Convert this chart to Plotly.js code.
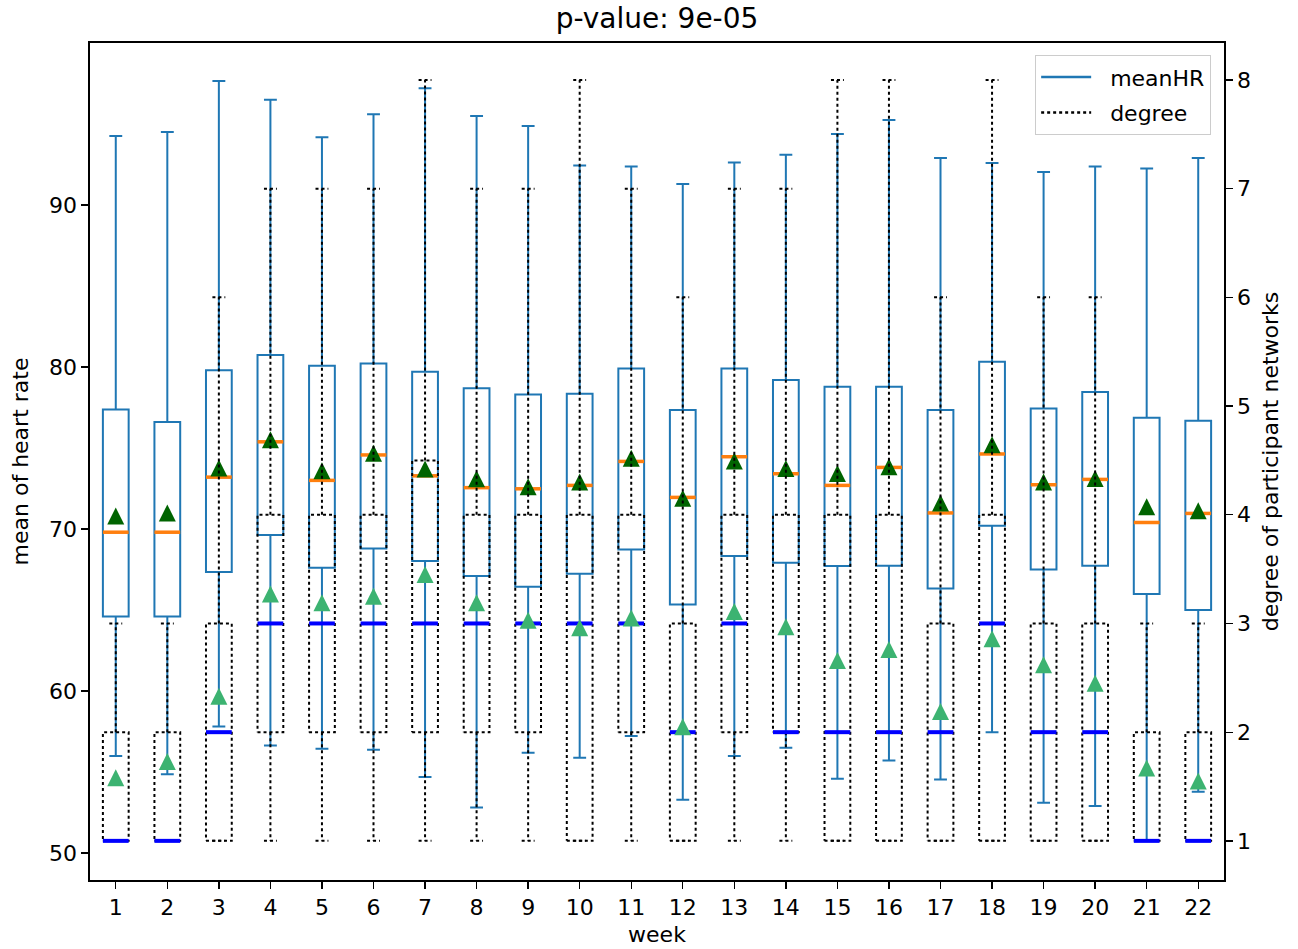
<!DOCTYPE html>
<html>
<head>
<meta charset="utf-8">
<script src="https://cdn.plot.ly/plotly-3.0.1.min.js"></script>
<style>html,body{margin:0;padding:0;background:#fff;}#chart{width:1298px;height:949px;}</style>
</head>
<body>
<div id="chart"></div>
<script>
// ---- data ----
const weeks = [1,2,3,4,5,6,7,8,9,10,11,12,13,14,15,16,17,18,19,20,21,22];

// meanHR (left axis)
const hrUpper  = [94.26,94.5,97.65,96.5,94.18,95.6,97.2,95.5,94.88,92.44,92.38,91.3,92.63,93.1,94.38,95.25,92.9,92.59,92.04,92.38,92.26,92.9];
const hrQ3     = [77.38,76.6,79.8,80.74,80.08,80.22,79.7,78.68,78.3,78.35,79.91,77.35,79.91,79.2,78.78,78.78,77.35,80.33,77.44,78.46,76.87,76.68];
const hrMedian = [69.8,69.8,73.2,75.38,73.0,74.57,73.28,72.55,72.48,72.69,74.17,71.95,74.46,73.41,72.69,73.8,70.99,74.63,72.73,73.06,70.4,70.96];
const hrQ1     = [64.59,64.59,67.35,69.63,67.6,68.8,68.02,67.1,66.43,67.24,68.74,65.34,68.33,67.91,67.71,67.73,66.33,70.2,67.5,67.73,65.99,65.0];
const hrLower  = [55.99,54.86,57.8,56.64,56.43,56.37,54.69,52.81,56.19,55.88,57.22,53.28,55.99,56.49,54.58,55.7,54.54,57.45,53.1,52.9,50.74,53.78];
const hrMean   = [70.8,70.99,73.77,75.5,73.6,74.67,73.7,73.1,72.6,72.9,74.36,71.9,74.2,73.74,73.43,73.84,71.6,75.2,72.9,73.12,71.37,71.12];

// degree (right axis)
const degUpper  = [3,3,6,7,7,7,8,7,7,8,7,6,7,7,8,8,6,8,6,6,3,3];
const degQ3     = [2,2,3,4,4,4,4.5,4,4,4,4,3,4,4,4,4,3,4,3,3,2,2];
const degMedian = [1,1,2,3,3,3,3,3,3,3,3,2,3,2,2,2,2,3,2,2,1,1];
const degQ1     = [1,1,1,2,2,2,2,2,2,1,2,1,2,2,1,1,1,1,1,1,1,1];
const degLower  = [1,1,1,1,1,1,1,1,1,1,1,1,1,1,1,1,1,1,1,1,1,1];
const degMean   = [1.58,1.73,2.33,3.27,3.19,3.25,3.45,3.19,3.03,2.96,3.05,2.05,3.11,2.97,2.66,2.76,2.19,2.86,2.62,2.45,1.67,1.55];

const titleText = 'p-value: 9e-05';
const xTitle = 'week';
const yTitle = 'mean of heart rate';
const y2Title = 'degree of participant networks';
const legendNames = ['meanHR', 'degree'];

// ---- geometry helpers ----
const HALF = 0.25, CAP = 0.125;

function segments(vals) {
  const xs = [], ys = [];
  weeks.forEach((w, i) => { xs.push(w - HALF, w + HALF, null); ys.push(vals[i], vals[i], null); });
  return {x: xs, y: ys};
}

function degreeOutline() {
  const xs = [], ys = [];
  const add = (px, py) => { xs.push(...px, null); ys.push(...py, null); };
  weeks.forEach((w, i) => {
    add([w-HALF, w+HALF, w+HALF, w-HALF, w-HALF], [degQ1[i], degQ1[i], degQ3[i], degQ3[i], degQ1[i]]);
    add([w, w], [degQ3[i], degUpper[i]]);
    add([w-CAP, w+CAP], [degUpper[i], degUpper[i]]);
    add([w, w], [degQ1[i], degLower[i]]);
    add([w-CAP, w+CAP], [degLower[i], degLower[i]]);
  });
  return {x: xs, y: ys};
}

const hrMed = segments(hrMedian);
const dgMed = segments(degMedian);
const dgOut = degreeOutline();

// matplotlib-like "^" marker: square-aspect triangle centred on the point
const TRI = 17;
const triMarker = (color) => ({symbol: 'arrow-down', angle: 180, standoff: TRI / 2, size: TRI, color: color, line: {width: 0}});

const PAD = '\u00a0\u00a0';
const traces = [
  {
    type: 'box', x: weeks, q1: hrQ1, median: hrMedian, q3: hrQ3,
    lowerfence: hrLower, upperfence: hrUpper,
    width: 0.5, whiskerwidth: 0.5, boxpoints: false,
    line: {color: '#1f77b4', width: 2}, fillcolor: 'rgba(0,0,0,0)',
    showlegend: false, hoverinfo: 'skip', xaxis: 'x', yaxis: 'y'
  },
  {
    type: 'scatter', mode: 'lines', x: hrMed.x, y: hrMed.y,
    line: {color: '#ff7f0e', width: 3.5}, showlegend: false, hoverinfo: 'skip',
    xaxis: 'x', yaxis: 'y'
  },
  {
    type: 'scatter', mode: 'markers', x: weeks, y: hrMean,
    marker: triMarker('#006400'),
    showlegend: false, hoverinfo: 'skip', xaxis: 'x', yaxis: 'y'
  },
  {
    type: 'scatter', mode: 'lines', x: dgOut.x, y: dgOut.y,
    line: {color: '#000000', width: 2, dash: 'dot'}, showlegend: false, hoverinfo: 'skip',
    xaxis: 'x', yaxis: 'y2'
  },
  {
    type: 'scatter', mode: 'lines', x: dgMed.x, y: dgMed.y,
    line: {color: '#0000ff', width: 4}, showlegend: false, hoverinfo: 'skip',
    xaxis: 'x', yaxis: 'y2'
  },
  {
    type: 'scatter', mode: 'markers', x: weeks, y: degMean,
    marker: triMarker('#3cb371'),
    showlegend: false, hoverinfo: 'skip', xaxis: 'x', yaxis: 'y2'
  },
  // legend entries
  {
    type: 'scatter', mode: 'lines', name: PAD + legendNames[0], x: [null], y: [null], legendgroup: 'a',
    line: {color: '#1f77b4', width: 2.5}, xaxis: 'x', yaxis: 'y'
  },
  {
    type: 'scatter', mode: 'lines', name: PAD + legendNames[1], x: [null], y: [null], legendgroup: 'b',
    line: {color: '#000000', width: 2.5, dash: 'dot'}, xaxis: 'x', yaxis: 'y'
  }
];

const FS = 22;
const axisBase = {
  showgrid: false, zeroline: false, showline: true, linecolor: '#000', linewidth: 1.6,
  ticks: 'outside', ticklen: 7, tickwidth: 1.3, tickcolor: '#000',
  tickfont: {size: FS, color: '#000'}, automargin: false
};

const layout = {
  width: 1298, height: 949,
  margin: {l: 90, r: 74, t: 43, b: 69},
  paper_bgcolor: '#fff', plot_bgcolor: '#fff',
  font: {family: 'DejaVu Sans, sans-serif', color: '#000'},
  title: {text: titleText, font: {size: 28, color: '#000'}, x: 0.5, xref: 'paper', xanchor: 'center', y: 0.981, yref: 'container', yanchor: 'middle'},
  boxmode: 'overlay',
  xaxis: Object.assign({}, axisBase, {
    range: [0.5, 22.5], tickvals: weeks, ticktext: weeks.map(String), mirror: true,
    title: {text: xTitle, font: {size: FS}, standoff: 7}
  }),
  yaxis: Object.assign({}, axisBase, {
    range: [48.33, 100.0], tickvals: [50,60,70,80,90], mirror: false,
    title: {text: yTitle, font: {size: FS}, standoff: 14}
  }),
  yaxis2: Object.assign({}, axisBase, {
    overlaying: 'y', side: 'right', range: [0.64, 8.34], tickvals: [1,2,3,4,5,6,7,8],
    title: {text: y2Title, font: {size: FS}, standoff: 12}
  }),
  legend: {
    x: 0.9885, y: 0.9857, xanchor: 'right', yanchor: 'top',
    bgcolor: 'rgba(255,255,255,0.8)', bordercolor: '#cccccc', borderwidth: 1.2,
    font: {size: FS, color: '#000'}, tracegroupgap: 4, itemwidth: 50
  },
  showlegend: true
};

Plotly.newPlot('chart', traces, layout, {displayModeBar: false, staticPlot: true});
</script>
</body>
</html>
